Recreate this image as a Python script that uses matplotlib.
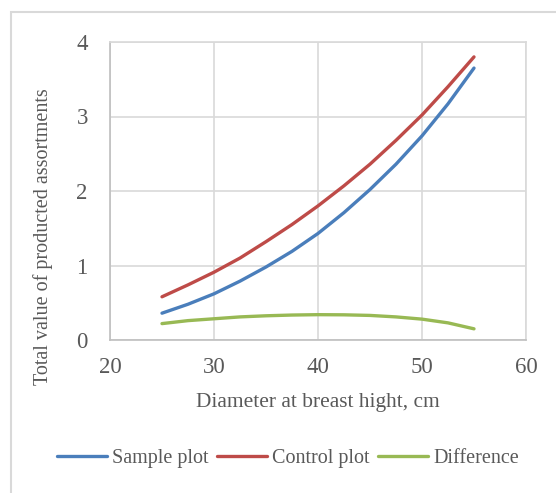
import matplotlib
matplotlib.use('Agg')
import matplotlib.pyplot as plt
from matplotlib.patches import Rectangle

# diameter classes, cm
dbh = [25, 27.5, 30, 32.5, 35, 37.5, 40, 42.5, 45, 47.5, 50, 52.5, 55]
sample_plot = [0.36, 0.48, 0.62, 0.79, 0.98, 1.19, 1.43, 1.71, 2.02, 2.36, 2.74, 3.17, 3.65]
control_plot = [0.58, 0.74, 0.91, 1.10, 1.32, 1.55, 1.80, 2.07, 2.36, 2.68, 3.02, 3.40, 3.80]
difference = [0.22, 0.26, 0.285, 0.31, 0.325, 0.335, 0.34, 0.338, 0.33, 0.31, 0.28, 0.23, 0.15]

x_ticks = [20, 30, 40, 50, 60]
y_ticks = [0, 1, 2, 3, 4]

plt.rcParams['font.family'] = ['Liberation Serif', 'DejaVu Serif']
W, H = 556, 493

fig = plt.figure(figsize=(W / 100, H / 100), dpi=100)
# chart area border (runs off the right and bottom of the image)
fig.patches.append(Rectangle((11 / W, -0.05), 1.0, 1 - 12 / H + 0.05, transform=fig.transFigure,
                             fill=False, edgecolor='#D9D9D9', linewidth=1.5))
ax = fig.add_axes([110 / W, 1 - 340 / H, 416 / W, 298 / H])

ax.plot(dbh, sample_plot, color='#4A7EBB', lw=2.4, solid_capstyle='round', label='Sample plot')
ax.plot(dbh, control_plot, color='#BE4B48', lw=2.4, solid_capstyle='round', label='Control plot')
ax.plot(dbh, difference, color='#98B954', lw=2.4, solid_capstyle='round', label='Difference')

ax.set_xlim(20, 60)
ax.set_ylim(0, 4)
ax.set_xticks(x_ticks)
ax.set_yticks(y_ticks)
ax.tick_params(length=0, labelsize=16.5, colors='#595959')
ax.tick_params(axis='x', pad=12)
ax.tick_params(axis='y', pad=16)
ax.grid(True, color='#D9D9D9', lw=1.2)
ax.set_axisbelow(True)
for s in ax.spines.values():
  s.set_color('#D9D9D9')
  s.set_linewidth(1.2)
ax.spines['left'].set_color('#BFBFBF')
ax.spines['bottom'].set_color('#BFBFBF')

fig.text(318 / W, 1 - 403 / H, 'Diameter at breast hight, cm', fontsize=15.4, color='#595959',
         ha='center', va='center')
fig.text(43 / W, 1 - 237 / H, 'Total value of producted assortments', fontsize=14.5, color='#595959',
         ha='center', va='center', rotation=90)

leg = fig.legend(loc='center', bbox_to_anchor=(288 / W, 1 - 458 / H), ncol=3, frameon=False,
                 fontsize=14.5, handlelength=2.5, handletextpad=0.25, columnspacing=0.4,
                 borderpad=0, borderaxespad=0)
for t in leg.get_texts():
  t.set_color('#595959')

fig.savefig('out.png', dpi=100)
